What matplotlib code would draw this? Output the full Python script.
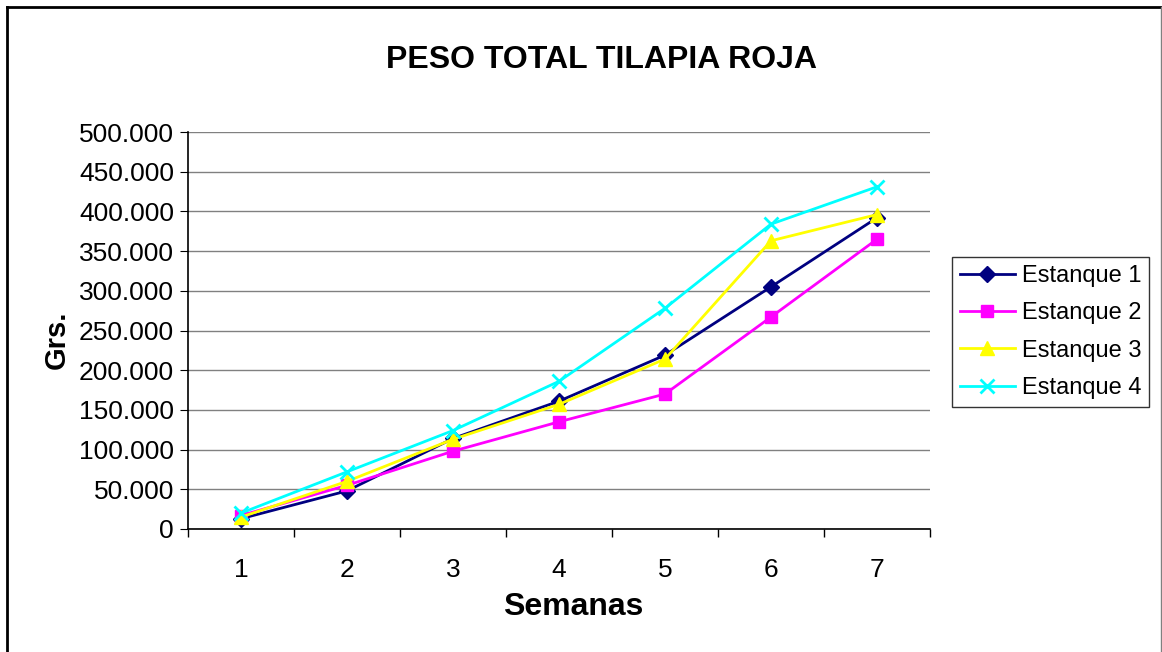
import numpy as np
import matplotlib.pyplot as plt
from matplotlib.lines import Line2D
from matplotlib.ticker import FuncFormatter, FixedLocator

plt.rcParams['font.family'] = ['Liberation Sans', 'DejaVu Sans']

semanas = [1, 2, 3, 4, 5, 6, 7]
estanque_1 = [13000, 48000, 114000, 161000, 219000, 305000, 392000]
estanque_2 = [17000, 55000, 98000, 135000, 170000, 267000, 365000]
estanque_3 = [15000, 60000, 113000, 157000, 214000, 363000, 396000]
estanque_4 = [20000, 72000, 124000, 186000, 278000, 384000, 431000]
nombres = ['Estanque 1', 'Estanque 2', 'Estanque 3', 'Estanque 4']

W, H = 1162, 652
fig = plt.figure(figsize=(W / 100, H / 100), dpi=100)
ax = fig.add_axes([188 / W, 1 - 529 / H, (930 - 188) / W, (529 - 132) / H])

# series styles: colour, marker, size
estilos = [
    ('#000080', 'D', 8),
    ('#FF00FF', 's', 9),
    ('#FFFF00', '^', 10),
    ('#00FFFF', 'x', 10),
]
series = [estanque_1, estanque_2, estanque_3, estanque_4]
for vals, nombre, (c, m, ms) in zip(series, nombres, estilos):
    ax.plot(semanas, vals, color=c, marker=m, markersize=ms, lw=2,
            markeredgewidth=2 if m == 'x' else 1, markeredgecolor=c,
            label=nombre, zorder=3)

ax.set_xlim(0.5, 7.5)
ax.set_ylim(0, 500000)
ax.set_yticks(np.arange(0, 500001, 50000))
ax.yaxis.set_major_formatter(FuncFormatter(
    lambda v, p: '0' if v == 0 else f'{int(v):,}'.replace(',', '.')))
ax.grid(axis='y', color='#808080', lw=1, zorder=0)

ax.set_xticks(semanas)
ax.xaxis.set_minor_locator(FixedLocator(np.arange(0.5, 8, 1)))
ax.tick_params(axis='x', which='major', length=0, pad=21, labelsize=19)
ax.tick_params(axis='x', which='minor', length=6, direction='out', width=1)
ax.tick_params(axis='y', length=6, direction='out', labelsize=19, pad=4)

for s in ['top', 'right']:
    ax.spines[s].set_visible(False)
for s in ['left', 'bottom']:
    ax.spines[s].set_color('black')
    ax.spines[s].set_linewidth(1.2)

fig.text(573 / W, 1 - 607 / H, 'Semanas', ha='center', va='center',
         fontsize=23, fontweight='bold')
fig.text(57 / W, 1 - 340 / H, 'Grs.', ha='center', va='center', rotation=90,
         fontsize=21, fontweight='bold')

fig.text(601 / W, 1 - 60 / H, 'PESO TOTAL TILAPIA ROJA', ha='center', va='center',
         fontsize=23, fontweight='bold')

leg = ax.legend(loc='center left', bbox_to_anchor=(952 / W, 1 - 332 / H),
                bbox_transform=fig.transFigure, fontsize=17, frameon=True,
                fancybox=False, edgecolor='black', borderpad=0.35,
                labelspacing=0.65, handlelength=2.3, handletextpad=0.3,
                borderaxespad=0)
leg.get_frame().set_linewidth(1)

# outer chart border (top, left black; right thin gray)
fig.add_artist(Line2D([7 / W, 1161 / W], [1 - 6.5 / H, 1 - 6.5 / H],
                      transform=fig.transFigure, color='black', lw=2))
fig.add_artist(Line2D([7 / W, 7 / W], [0, 1 - 6.5 / H],
                      transform=fig.transFigure, color='black', lw=2))
fig.add_artist(Line2D([1161 / W, 1161 / W], [0, 1 - 6.5 / H],
                      transform=fig.transFigure, color='#808080', lw=1))

fig.savefig('out.png', dpi=100)
